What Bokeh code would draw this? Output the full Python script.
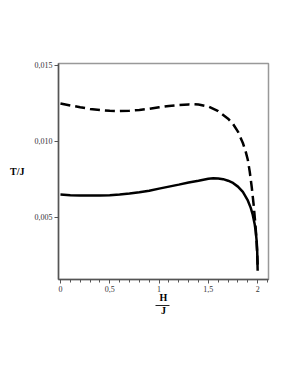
from bokeh.plotting import figure
from bokeh.models import Range1d, FixedTicker, CustomJSTickFormatter, LinearAxis
from bokeh.embed import file_html
from bokeh.resources import INLINE

# Data
h_solid = [0.0, 0.1, 0.2, 0.3, 0.4, 0.5, 0.6, 0.7, 0.8, 0.9, 1.0, 1.1, 1.2, 1.3, 1.4, 1.5,
           1.55, 1.6, 1.65, 1.7, 1.75, 1.8, 1.85, 1.9, 1.93, 1.95, 1.97, 1.98, 1.99, 1.995, 2.0]
t_solid = [0.00651, 0.00647, 0.00645, 0.00644, 0.00644, 0.00646, 0.00651, 0.00658, 0.00666,
           0.00676, 0.00690, 0.00703, 0.00716, 0.00730, 0.00742, 0.00755, 0.00758, 0.00757,
           0.00752, 0.00742, 0.00727, 0.00703, 0.00668, 0.00612, 0.00563, 0.00518, 0.00455,
           0.00410, 0.00345, 0.00290, 0.00150]

h_dash = [0.0, 0.1, 0.2, 0.3, 0.4, 0.5, 0.6, 0.7, 0.8, 0.9, 1.0, 1.1, 1.2, 1.3, 1.35, 1.4,
          1.5, 1.6, 1.7, 1.75, 1.8, 1.85, 1.88, 1.9, 1.92, 1.94, 1.96, 1.98, 1.99, 2.0]
t_dash = [0.01250, 0.01237, 0.01225, 0.01214, 0.01207, 0.01202, 0.01200, 0.01202, 0.01207,
          0.01215, 0.01225, 0.01234, 0.01240, 0.01244, 0.01245, 0.01243, 0.01230, 0.01200,
          0.01150, 0.01115, 0.01065, 0.00990, 0.00930, 0.00880, 0.00800, 0.00700, 0.00580,
          0.00430, 0.00330, 0.00190]

x_ticks = [0, 0.5, 1, 1.5, 2]
x_minor = [0.1, 0.2, 0.3, 0.4, 0.6, 0.7, 0.8, 0.9, 1.1, 1.2, 1.3, 1.4, 1.6, 1.7, 1.8, 1.9, 2.1]
y_ticks = [0.005, 0.010, 0.015]
x_label_num = "H"
x_label_den = "J"
y_label = "T/J"

FONT = "Liberation Serif"
W, H = 283, 368

p = figure(width=W, height=H, output_backend="svg", toolbar_location=None,
           x_range=Range1d(-0.02, 2.11), y_range=Range1d(0.00092, 0.01513),
           min_border_left=58, min_border_right=15, min_border_top=63, min_border_bottom=89)
p.grid.visible = False
p.outline_line_color = "#999999"
p.outline_line_width = 1.5
p.background_fill_color = "white"
p.border_fill_color = "white"

p.line(h_dash, t_dash, line_color="black", line_width=2.5, line_dash="10 5")
p.line(h_solid, t_solid, line_color="black", line_width=2.5)

xa = p.xaxis[0]
xa.ticker = FixedTicker(ticks=x_ticks, minor_ticks=x_minor)
xa.formatter = CustomJSTickFormatter(code="return tick.toString().replace('.', ',');")
ya = p.yaxis[0]
ya.ticker = FixedTicker(ticks=y_ticks)
ya.formatter = CustomJSTickFormatter(code="return tick.toFixed(3).replace('.', ',');")

for ax in (xa, ya):
    ax.axis_line_color = "#555555"
    ax.axis_line_width = 1.5
    ax.major_tick_line_color = "#555555"
    ax.minor_tick_line_color = "#555555"
    ax.major_tick_in = 0
    ax.major_tick_out = 4
    ax.minor_tick_in = 0
    ax.minor_tick_out = 3
    ax.major_label_text_font = FONT
    ax.major_label_text_font_size = "8px"
    ax.major_label_text_color = "#333333"
    ax.major_label_standoff = 2
    ax.axis_label_text_font = FONT
    ax.axis_label_text_font_style = "bold"
    ax.axis_label_text_font_size = "10px"
    ax.axis_label_text_color = "black"
ya.minor_tick_line_color = None

ya.axis_label = y_label
ya.axis_label_orientation = "horizontal"
ya.axis_label_standoff = 7

xa.axis_label = x_label_num
xa.axis_label_standoff = -3

# denominator axis: short line acting as the fraction bar, label "J" below
den = LinearAxis(ticker=FixedTicker(ticks=[]), bounds=(0.965, 1.105),
                 axis_line_color="#222222", axis_line_width=1,
                 major_tick_line_color=None, minor_tick_line_color=None,
                 major_label_text_font_size="0px",
                 axis_label=x_label_den, axis_label_standoff=-1,
                 axis_label_text_font=FONT, axis_label_text_font_style="bold",
                 axis_label_text_font_size="10px", axis_label_text_color="black")
p.add_layout(den, "below")

open("out.html", "w").write(file_html(p, INLINE))
